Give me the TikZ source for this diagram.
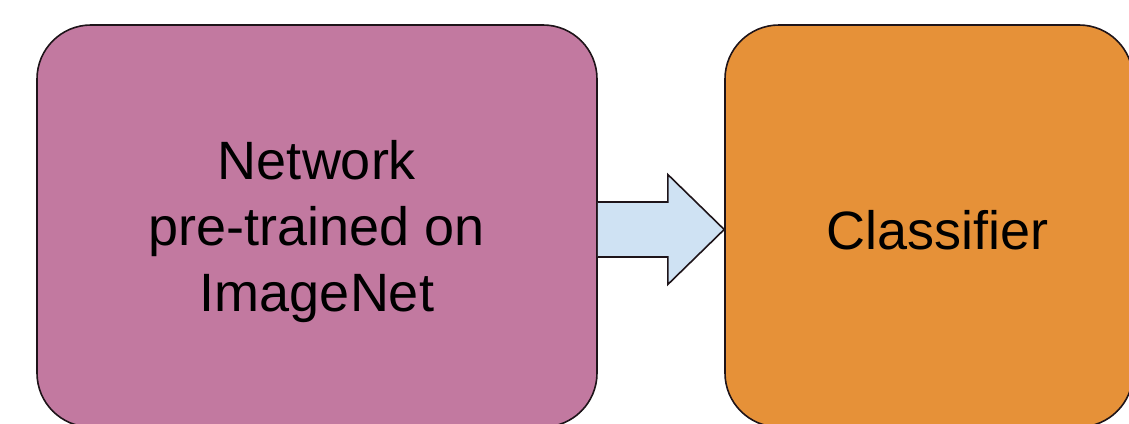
\documentclass[tikz,border=0pt]{standalone}
\usepackage{fontspec}
\setmainfont{Liberation Sans}
\definecolor{netfill}{RGB}{194,121,160}
\definecolor{clsfill}{RGB}{230,145,56}
\definecolor{arrowfill}{RGB}{207,226,243}
\definecolor{edge}{RGB}{30,20,25}
\tikzset{
  block/.style={draw=edge, line width=1.6pt, rounded corners=54pt, inner sep=0pt},
  caption/.style={font=\fontsize{54}{66}\selectfont, align=center, inner sep=0pt, text=black},
}
\begin{document}
\begin{tikzpicture}[x=1pt, y=-1pt]
  \useasboundingbox (0,0) rectangle (1129,423);
  \begin{scope}
    \clip (0,0) rectangle (1129,423);
    % source network block
    \node[block, fill=netfill, minimum width=560pt, minimum height=402pt] (net) at (317,226) {};
    \node[caption] (nettext) at (317,232) {Network\\pre-trained on\\ImageNet};
    % classifier block
    \node[block, fill=clsfill, minimum width=408pt, minimum height=402pt] (cls) at (929,226) {};
    \node[caption] (clstext) at (937.5,230.5) {Classifier};
    % block arrow between the two blocks
    \coordinate (tail) at ([yshift=-3.5pt]net.east);
    \coordinate (tip)  at ([yshift=-3.5pt]cls.west);
    \draw[draw=edge, line width=1.6pt, fill=arrowfill, line join=miter]
      ([yshift=-27.5pt]tail) -- ([xshift=70pt, yshift=-27.5pt]tail)
      -- ([xshift=70pt, yshift=-55pt]tail) -- (tip)
      -- ([xshift=70pt, yshift=55pt]tail) -- ([xshift=70pt, yshift=27.5pt]tail)
      -- ([yshift=27.5pt]tail);
  \end{scope}
\end{tikzpicture}
\end{document}
